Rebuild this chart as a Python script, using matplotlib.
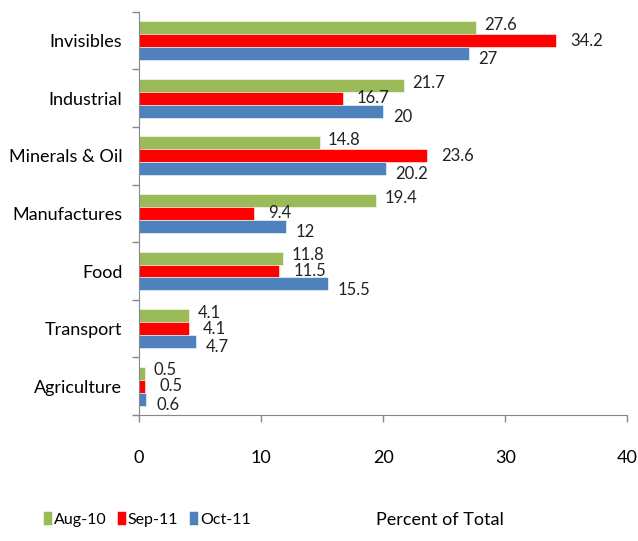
import matplotlib.pyplot as plt
import numpy as np

plt.rcParams['font.family'] = ['Lato', 'DejaVu Sans']

categories = ["Invisibles", "Industrial", "Minerals & Oil", "Manufactures",
              "Food", "Transport", "Agriculture"]
aug10 = [27.6, 21.7, 14.8, 19.4, 11.8, 4.1, 0.5]
sep11 = [34.2, 16.7, 23.6, 9.4, 11.5, 4.1, 0.5]
oct11 = [27, 20, 20.2, 12, 15.5, 4.7, 0.6]
series = [("Aug-10", aug10, "#9BBB59"),
          ("Sep-11", sep11, "#FF0000"),
          ("Oct-11", oct11, "#4F81BD")]

fig = plt.figure(figsize=(6.38, 5.41), dpi=100)
ax = fig.add_axes([0.218, 0.233, 0.765, 0.745])

n = len(categories)
y = np.arange(n)[::-1].astype(float)   # top category first
h = 0.225
offsets = [-h, 0, h]                     # green top, red middle, blue bottom
label_dx = [6, 10, 7]                    # pixel shifts for data labels
label_dy = [2, 0, -4]

for (name, vals, col), off, dx, dy in zip(series, offsets, label_dx, label_dy):
    ax.barh(y - off, vals, height=h, color=col, edgecolor="white",
            linewidth=0.4, label=name)
    for yi, v in zip(y - off, vals):
        ax.annotate(f"{v:g}", (v, yi), xytext=(dx, dy), textcoords="offset points",
                    ha="left", va="center", fontsize=12, color="#222222")

ax.set_xlim(0, 40)
ax.set_ylim(-0.5, n - 0.5)
ax.set_xticks([0, 10, 20, 30, 40])
ax.tick_params(axis="x", length=5, width=1, color="#888888", pad=20,
               labelsize=13)
ax.set_yticks(y)
ax.set_yticklabels(categories, fontsize=13)
ax.tick_params(axis="y", length=0, pad=12)
ax.set_yticks(np.arange(n + 1) - 0.5, minor=True)
ax.tick_params(axis="y", which="minor", length=5, width=1, color="#888888")

for s in ["top", "right"]:
    ax.spines[s].set_visible(False)
for s in ["left", "bottom"]:
    ax.spines[s].set_color("#888888")
ax.spines["bottom"].set_bounds(-0.4, 40)

fig.legend(loc="lower left", bbox_to_anchor=(0.045, 0.0), ncol=3, frameon=False,
           fontsize=11.5, handlelength=0.55, handleheight=0.9, handletextpad=0.1,
           columnspacing=0.7)
fig.text(0.69, 0.03, "Percent of Total", ha="center", fontsize=13)

fig.savefig("out.png", dpi=100, facecolor="white")
